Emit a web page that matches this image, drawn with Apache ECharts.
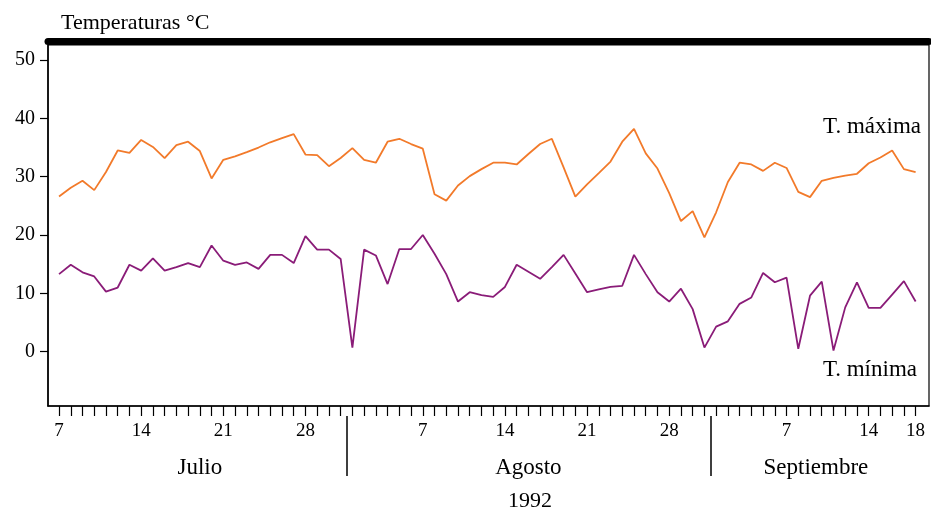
<!DOCTYPE html>
<html>
<head>
<meta charset="utf-8">
<script src="https://cdn.jsdelivr.net/npm/echarts@6/dist/echarts.min.js"></script>
<style>
  html, body { margin: 0; padding: 0; background: #fff; }
  #chart { width: 931px; height: 512px; }
</style>
</head>
<body>
<div id="chart"></div>
<script>
// daily values, 7 Jul 1992 (index 0) to 18 Sep 1992 (index 73)
const tMax = [26.6, 28.1, 29.3, 27.7, 30.8, 34.5, 34.1, 36.3, 35.1, 33.2,
  35.4, 36.0, 34.4, 29.7, 32.9, 33.5, 34.2, 35.0, 35.9, 36.6,
  37.3, 33.8, 33.7, 31.8, 33.2, 34.9, 32.9, 32.4, 36.0, 36.5,
  35.6, 34.8, 27.0, 25.9, 28.5, 30.1, 31.3, 32.4, 32.4, 32.1,
  33.9, 35.6, 36.5, 31.6, 26.6, 28.7, 30.6, 32.6, 36.0, 38.2,
  34.0, 31.4, 27.2, 22.4, 24.1, 19.6, 23.9, 29.1, 32.4, 32.1,
  31.0, 32.4, 31.5, 27.4, 26.5, 29.3, 29.8, 30.2, 30.5, 32.3,
  33.3, 34.5, 31.3, 30.8]
const tMin = [13.3, 14.9, 13.6, 12.9, 10.3, 11.0, 14.9, 13.9, 16.0, 13.9,
  14.5, 15.2, 14.5, 18.2, 15.6, 14.9, 15.3, 14.2, 16.6, 16.6,
  15.2, 19.8, 17.5, 17.5, 15.9, 0.7, 17.5, 16.5, 11.6, 17.6,
  17.6, 20.0, 16.8, 13.3, 8.6, 10.2, 9.7, 9.4, 11.1, 14.9,
  13.7, 12.5, 14.5, 16.6, 13.4, 10.2, 10.7, 11.1, 11.3, 16.6,
  13.3, 10.2, 8.6, 10.8, 7.3, 0.7, 4.3, 5.2, 8.2, 9.3,
  13.5, 11.9, 12.7, 0.5, 9.6, 12.0, 0.2, 7.6, 11.9, 7.5,
  7.5, 9.8, 12.1, 8.6]

const months = ['Julio', 'Agosto', 'Septiembre']
const monthFirst = [0, 25, 56]   // index of first day shown in each month
const monthLast = [24, 55, 73]
const dayTicks = [0, 7, 14, 21, 31, 38, 45, 52, 62, 69, 73]
const dayTickText = ['7', '14', '21', '28', '7', '14', '21', '28', '7', '14', '18']
const yTicks = [0, 10, 20, 30, 40, 50]

const FONT = 'Liberation Serif'
const xMin = -0.94
const xMax = 74.14

const allDays = tMax.map((v, i) => i)
const monthMid = months.map((m, k) => (monthFirst[k] + monthLast[k]) / 2)
const monthSep = [monthLast[0] + 0.5, monthLast[1] + 0.5]

const chart = echarts.init(document.getElementById('chart'))

const txt = (size) => ({ fontFamily: FONT, fontSize: size, fontWeight: 'normal', color: '#000' })

const option = {
  animation: false,
  backgroundColor: '#fff',
  title: [
    { text: 'Temperaturas °C', left: 61, top: 12, padding: 0, textStyle: txt(22) },
    { text: 'T. máxima', right: 10, top: 115, padding: 0, textStyle: txt(23) },
    { text: 'T. mínima', right: 14, top: 358, padding: 0, textStyle: txt(23) },
    { text: '1992', left: 530, textAlign: 'center', top: 490, padding: 0, textStyle: txt(22) }
  ],
  grid: {
    left: 48, right: 2, top: 45, bottom: 106,
    show: true, borderColor: '#000', borderWidth: 1.2,
    outerBoundsMode: 'none'
  },
  xAxis: [
    {
      type: 'value', min: xMin, max: xMax, position: 'bottom',
      axisLine: { show: true, onZero: false, lineStyle: { color: '#000', width: 1.5 } },
      axisTick: { show: true, customValues: allDays, length: 10, lineStyle: { color: '#000', width: 1.2 } },
      axisLabel: {
        customValues: dayTicks, margin: 16, ...txt(19),
        formatter: v => dayTickText[dayTicks.indexOf(Math.round(v))]
      },
      splitLine: { show: false }
    },
    {
      // month names and separators
      type: 'value', min: xMin, max: xMax, position: 'bottom', offset: 10,
      axisLine: { show: false, onZero: false },
      axisTick: { show: true, customValues: monthSep, length: 60, lineStyle: { color: '#000', width: 1.5 } },
      axisLabel: {
        customValues: monthMid, margin: 40, ...txt(23),
        formatter: v => months[monthMid.indexOf(v)]
      },
      splitLine: { show: false }
    },
    {
      // heavy bar on top of the frame
      type: 'value', min: xMin, max: xMax, position: 'top', offset: 3.5,
      axisLine: { show: true, onZero: false, lineStyle: { color: '#000', width: 7 } },
      axisTick: { show: false },
      axisLabel: { show: false },
      splitLine: { show: false }
    }
  ],
  yAxis: {
    type: 'value', min: -9.31, max: 52.58,
    axisLine: { show: true, onZero: false, lineStyle: { color: '#000', width: 1.5 } },
    axisTick: { show: true, customValues: yTicks, length: 8, lineStyle: { color: '#000', width: 1.2 } },
    axisLabel: { customValues: yTicks, margin: 13, ...txt(20) },
    splitLine: { show: false }
  },
  series: [
    {
      name: 'T. máxima',
      type: 'line',
      xAxisIndex: 0,
      data: tMax.map((v, i) => [i, v]),
      showSymbol: false,
      lineStyle: { color: '#F27A2A', width: 1.8 }
    },
    {
      name: 'T. mínima',
      type: 'line',
      xAxisIndex: 0,
      data: tMin.map((v, i) => [i, v]),
      showSymbol: false,
      lineStyle: { color: '#8A1C78', width: 1.8 }
    }
  ]
}

chart.setOption(option)
</script>
</body>
</html>
